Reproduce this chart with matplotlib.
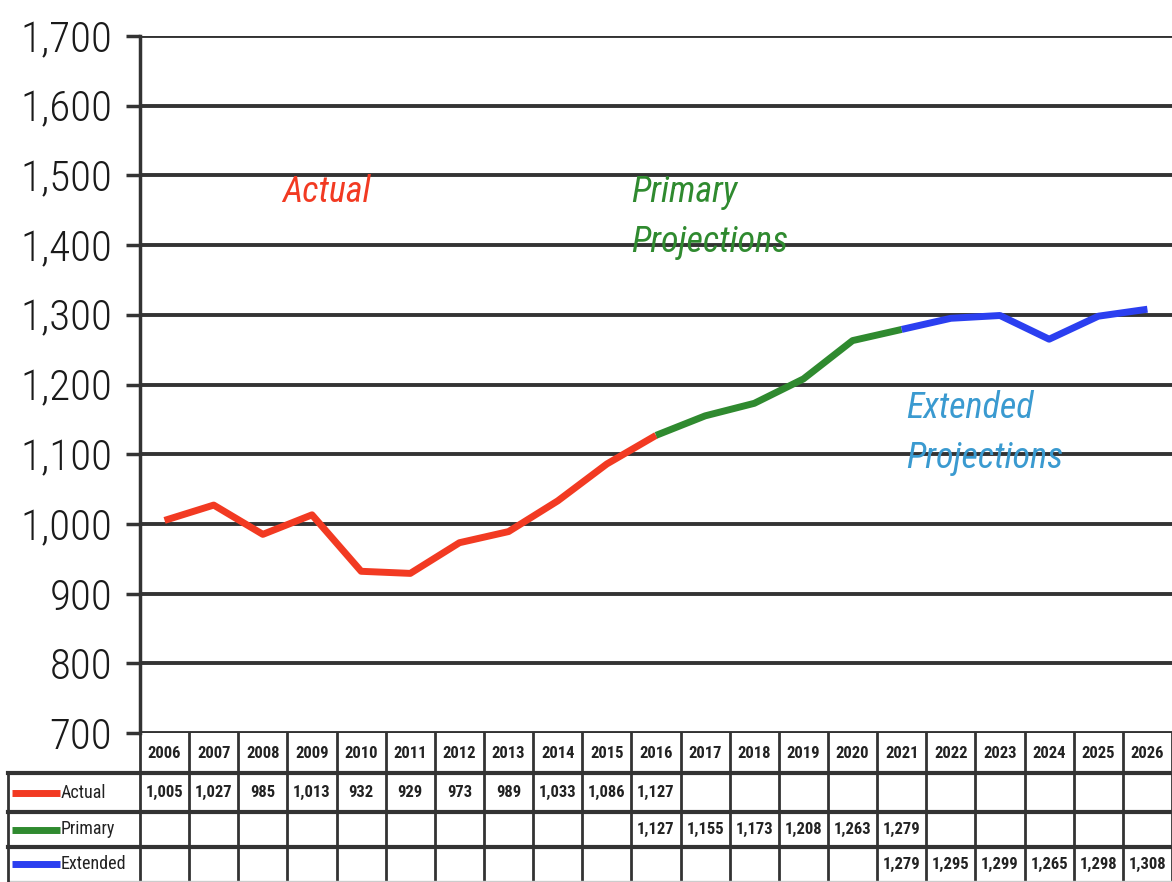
import matplotlib
matplotlib.use("Agg")
import matplotlib.pyplot as plt
from matplotlib import font_manager

years = list(range(2006, 2027))
actual_years = list(range(2006, 2017))
actual = [1005, 1027, 985, 1013, 932, 929, 973, 989, 1033, 1086, 1127]
primary_years = list(range(2016, 2022))
primary = [1127, 1155, 1173, 1208, 1263, 1279]
extended_years = list(range(2021, 2027))
extended = [1279, 1295, 1299, 1265, 1298, 1308]
y_ticks = [700, 800, 900, 1000, 1100, 1200, 1300, 1400, 1500, 1600, 1700]

RED = "#f23a22"
GREEN = "#2f8a2f"
BLUE = "#2b3ff0"
LIGHTBLUE = "#3a9ad0"
GRID = "#333333"

# pick a narrow face if one is around, otherwise Liberation Sans
installed = {f.name for f in font_manager.fontManager.ttflist}
narrow = "Liberation Sans"
for cand in ["Liberation Sans Narrow", "DejaVu Sans Condensed", "Roboto Condensed",
             "Open Sans Condensed"]:
    if cand in installed:
        narrow = cand
        break
is_narrow = narrow != "Liberation Sans"
NARROW = [narrow, "DejaVu Sans"]
k = 1.0 if is_narrow else 0.82

W, H = 1172, 882
fig = plt.figure(figsize=(W / 100, H / 100), dpi=100)

# main plot area in pixels
left, right, top, bottom = 140, 1172, 36, 733
ax = fig.add_axes([left / W, 1 - bottom / H, (right - left) / W, (bottom - top) / H])
ax.set_xlim(2005.5, 2026.5)
ax.set_ylim(700, 1700)
ax.set_yticks(y_ticks)
ax.set_yticklabels([f"{v:,}" for v in y_ticks], family=NARROW, fontsize=31 * k,
                   color="#1a1a1a", weight="light")
ax.set_xticks([])
for v in y_ticks:
    ax.axhline(v, color=GRID, lw=2.8, zorder=1)
for s in ["top", "right", "bottom"]:
    ax.spines[s].set_visible(False)
ax.spines["left"].set_color(GRID)
ax.spines["left"].set_linewidth(2.5)
ax.tick_params(axis="y", length=10, width=2.5, color=GRID, pad=10)

ax.plot(actual_years, actual, color=RED, lw=5, zorder=3, solid_capstyle="butt")
ax.plot(primary_years, primary, color=GREEN, lw=5, zorder=3, solid_capstyle="butt")
ax.plot(extended_years, extended, color=BLUE, lw=5, zorder=3, solid_capstyle="butt")

lab = dict(fontsize=26 * k, style="italic", family=NARROW, va="center")
ax.text(2009.3, 1476, "Actual", color=RED, ha="center", **lab)
ax.text(2015.5, 1476, "Primary", color=GREEN, ha="left", **lab)
ax.text(2015.5, 1404, "Projections", color=GREEN, ha="left", **lab)
ax.text(2021.1, 1166, "Extended", color=LIGHTBLUE, ha="left", **lab)
ax.text(2021.1, 1095, "Projections", color=LIGHTBLUE, ha="left", **lab)

# data table below the plot
tl = 8
tax = fig.add_axes([tl / W, 0, (W - tl) / W, (H - bottom) / H])
col_w = (right - left) / len(years)
x0 = 2005.5 - (left - tl) / col_w
tax.set_xlim(x0, 2026.5)
tax.set_ylim(H, bottom)
tax.axis("off")

row_edges = [733, 773, 812, 847, 881]
for i in range(len(years) + 1):
    xv = 2005.5 + i
    tax.plot([xv, xv], [row_edges[0], row_edges[-1]], color=GRID, lw=2, clip_on=False)
for yv in row_edges[1:4]:
    tax.plot([x0, 2026.5], [yv, yv], color=GRID, lw=3, clip_on=False)
tax.plot([x0, 2026.5], [row_edges[-1], row_edges[-1]], color="#cccccc", lw=1, clip_on=False)
tax.plot([x0, x0], [row_edges[1], row_edges[-1]], color=GRID, lw=2, clip_on=False)

cell = 12 if is_narrow else 9
for yr in years:
    tax.text(yr, (row_edges[0] + row_edges[1]) / 2, str(yr), ha="center", va="center",
             fontsize=cell, family=NARROW, weight="bold", color="#222222")

rows = [("Actual", RED, actual_years, actual),
        ("Primary", GREEN, primary_years, primary),
        ("Extended", BLUE, extended_years, extended)]
for r, (name, col, yrs, vals) in enumerate(rows):
    yc = (row_edges[r + 1] + row_edges[r + 2]) / 2
    tax.plot([x0 + 0.08, x0 + 1.05], [yc, yc], color=col, lw=5, solid_capstyle="butt")
    tax.text(x0 + 1.07, yc, name, ha="left", va="center", fontsize=cell + 1,
             family=NARROW, color="#222222")
    for yr, v in zip(yrs, vals):
        tax.text(yr, yc, f"{v:,}", ha="center", va="center", fontsize=cell,
                 family=NARROW, weight="bold", color="#222222")

fig.savefig("out.png", dpi=100)
